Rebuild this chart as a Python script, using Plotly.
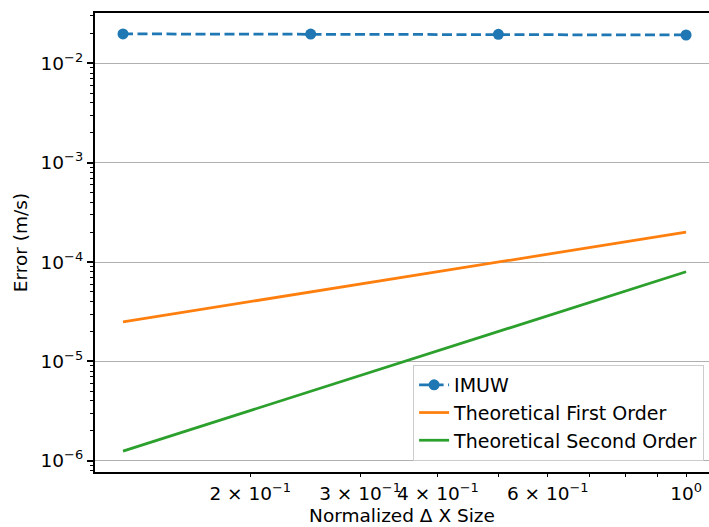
import plotly.graph_objects as go

# Normalized grid spacing and measured / theoretical errors
dx = [0.125, 0.25, 0.5, 1.0]
imuw_err = [0.0198, 0.0197, 0.0196, 0.0193]
first_order = [2.5e-5, 5e-5, 1e-4, 2e-4]
second_order = [1.25e-6, 5e-6, 2e-5, 8e-5]

# Tick positions and labels
x_tickvals = [0.2, 0.3, 0.4, 0.6, 1.0]
x_ticktext = ["2 × 10<sup>−1</sup>", "3 × 10<sup>−1</sup>", "4 × 10<sup>−1</sup>",
              "6 × 10<sup>−1</sup>", "10<sup>0</sup>"]
x_minor = [0.5, 0.7, 0.8, 0.9]
y_tickvals = [1e-6, 1e-5, 1e-4, 1e-3, 1e-2]
y_ticktext = ["10<sup>−6</sup>", "10<sup>−5</sup>", "10<sup>−4</sup>",
              "10<sup>−3</sup>", "10<sup>−2</sup>"]

X_RANGE = [-0.948, 0.0368]
Y_RANGE = [-6.113, -1.493]

y_minor = [m * 10.0 ** e for e in range(-7, -1) for m in range(2, 10)]
y_minor = [v for v in y_minor if 10 ** Y_RANGE[0] <= v <= 10 ** Y_RANGE[1]]

BLUE, ORANGE, GREEN = "#1f77b4", "#ff7f0e", "#2ca02c"
GRID = "#b0b0b0"
FONT = "DejaVu Sans"
FS = 18.5

fig = go.Figure()
fig.add_trace(go.Scatter(
    x=dx, y=imuw_err, mode="lines+markers", name="IMUW",
    line=dict(color=BLUE, width=2.75, dash="10px,4.5px"),
    marker=dict(color=BLUE, size=11, symbol="circle"),
))
fig.add_trace(go.Scatter(
    x=dx, y=first_order, mode="lines", name="Theoretical First Order",
    line=dict(color=ORANGE, width=2.75),
))
fig.add_trace(go.Scatter(
    x=dx, y=second_order, mode="lines", name="Theoretical Second Order",
    line=dict(color=GREEN, width=2.75),
))

fig.update_layout(
    width=709, height=527,
    margin=dict(l=95, r=0, t=13, b=55),
    plot_bgcolor="white", paper_bgcolor="white",
    font=dict(family=FONT, size=FS, color="black"),
    showlegend=True,
    legend=dict(
        x=0.992, xanchor="right", y=0.024, yanchor="bottom",
        bgcolor="rgba(255,255,255,0.8)", bordercolor="#cccccc", borderwidth=1,
        font=dict(family=FONT, size=19, color="black"),
        tracegroupgap=0,
    ),
    xaxis=dict(
        type="log", range=X_RANGE,
        showline=True, linecolor="black", linewidth=1.5, mirror=True,
        ticks="outside", tickvals=x_tickvals, ticktext=x_ticktext,
        ticklen=3.7, tickwidth=1.1, tickcolor="black", tickangle=0,
        showgrid=False, zeroline=False,
        minor=dict(tickmode="array", tickvals=x_minor, ticks="outside",
                   ticklen=3.7, tickwidth=1.1, tickcolor="black", showgrid=False),
        title=dict(text="Normalized Δ X Size", standoff=6,
                   font=dict(family=FONT, size=FS, color="black")),
    ),
    # major decade tick and gridline on the x axis
    xaxis2=dict(
        type="log", range=X_RANGE, overlaying="x", anchor="y", side="bottom",
        tickvals=[1.0], ticks="outside", ticklen=6.4, tickwidth=1.5,
        tickcolor="black", showticklabels=False, showline=False,
        showgrid=True, gridcolor=GRID, gridwidth=1.46, zeroline=False,
    ),
    yaxis=dict(
        type="log", range=Y_RANGE,
        showline=True, linecolor="black", linewidth=1.5, mirror=False,
        ticks="outside", tickvals=y_tickvals, ticktext=y_ticktext,
        ticklen=6.4, tickwidth=1.5, tickcolor="black",
        showgrid=True, gridcolor=GRID, gridwidth=1.46, zeroline=False,
        minor=dict(tickmode="array", tickvals=y_minor, ticks="outside",
                   ticklen=3.7, tickwidth=1.1, tickcolor="black", showgrid=False),
        title=dict(text="Error (m/s)", standoff=8,
                   font=dict(family=FONT, size=FS, color="black")),
    ),
)

fig.write_html("out.html")
